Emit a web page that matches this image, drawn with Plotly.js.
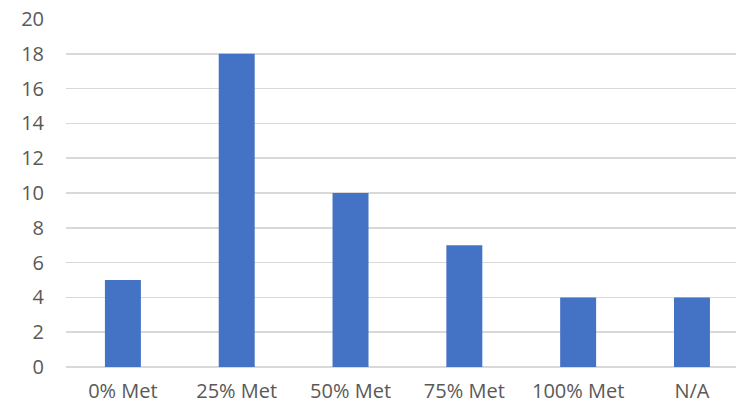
<!DOCTYPE html>
<html>
<head>
<meta charset="utf-8">
<script src="https://cdn.plot.ly/plotly-3.0.1.min.js"></script>
<style>html,body{margin:0;padding:0;background:#fff;}#chart{width:736px;height:409px;}</style>
</head>
<body>
<div id="chart"></div>
<script>
const categories = ["0% Met", "25% Met", "50% Met", "75% Met", "100% Met", "N/A"];
const counts = [5, 18, 10, 7, 4, 4];
const yTicks = [0, 2, 4, 6, 8, 10, 12, 14, 16, 18, 20];

const trace = {
  type: "bar",
  x: categories,
  y: counts,
  width: 0.316,
  marker: {color: "#4472C4"},
  hoverinfo: "x+y"
};

const layout = {
  width: 736,
  height: 409,
  margin: {l: 66, r: 0, t: 19, b: 42},
  paper_bgcolor: "#ffffff",
  plot_bgcolor: "#ffffff",
  showlegend: false,
  font: {family: "'Open Sans', 'Noto Sans', sans-serif", size: 20, color: "#595959"},
  xaxis: {
    type: "category",
    range: [-0.5, 5.387],
    showgrid: false,
    zeroline: false,
    showline: false,
    ticks: "",
    ticklabelstandoff: 10,
    tickfont: {size: 20, color: "#595959"}
  },
  yaxis: {
    range: [0, 20],
    tickvals: yTicks,
    ticktext: yTicks.map(String),
    showgrid: true,
    gridcolor: "#d9d9d9",
    gridwidth: 1.5,
    zeroline: true,
    zerolinecolor: "#d9d9d9",
    zerolinewidth: 1.5,
    showline: false,
    ticks: "",
    ticklabelstandoff: 21,
    tickfont: {size: 20, color: "#595959"}
  }
};

Plotly.newPlot("chart", [trace], layout, {displayModeBar: false, staticPlot: true});
</script>
</body>
</html>
